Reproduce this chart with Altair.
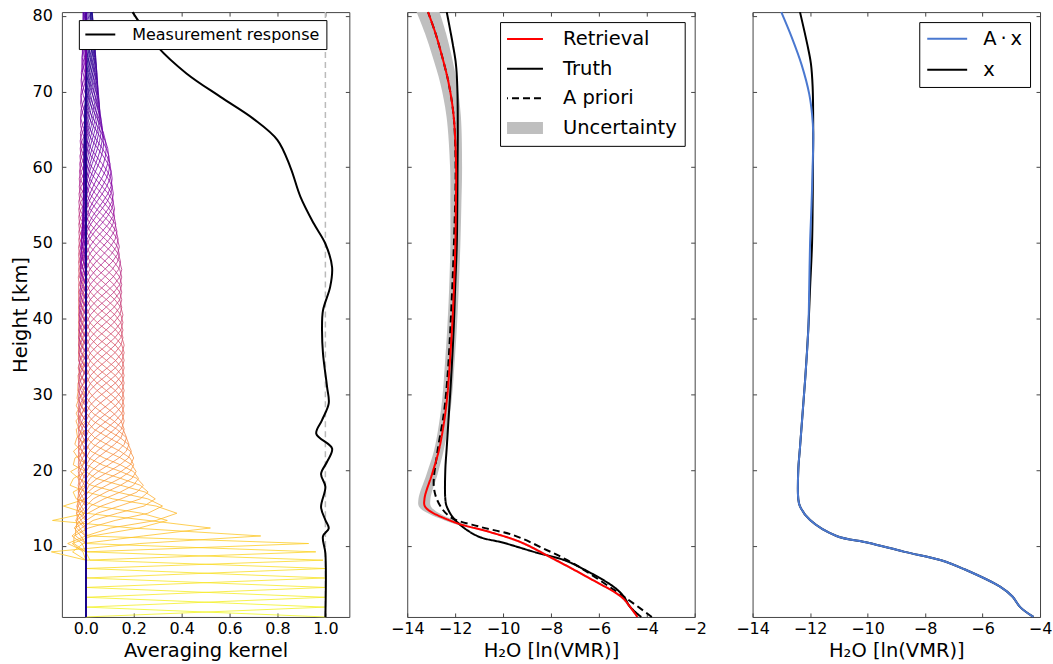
import altair as alt
import numpy as np
import pandas as pd

alt.data_transformers.disable_max_rows()

FONT = "DejaVu Sans"

# ---------------- left panel: averaging kernels ----------------
kernel_levels = [0.6, 1.9, 3.2, 4.5, 5.75, 7.0, 8.1, 9.2, 10.3, 11.3, 12.35, 13.35,
                 14.3, 15.25, 16.2, 17.1, 18.0, 18.9, 19.8, 20.7, 21.6, 22.5, 23.4,
                 24.3, 25.4,
                 26.5, 27.5, 28.5, 29.5, 30.5, 31.5, 32.5, 33.5, 34.5, 35.5,
                 36.5, 37.5, 38.5, 39.5, 40.5, 41.5, 42.5, 43.5, 44.5, 45.5,
                 46.5, 47.5, 48.5, 49.5, 50.5, 51.5, 52.5, 53.5, 54.5, 55.5,
                 56.5, 57.5, 58.5, 59.5, 60.5, 61.5, 62.5, 63.5, 64.5, 65.5,
                 66.5, 67.5, 68.5, 69.5, 70.5, 71.5, 72.5, 73.5, 74.5, 75.5,
                 76.5, 77.5, 78.5, 79.5, 80.5]
kernel_peak = [1.0, 1.0, 1.0, 1.0, 1.0, 1.0, 0.99, 0.96, 0.93,
               0.73, 0.52, 0.34, 0.38, 0.32, 0.29, 0.26, 0.24, 0.22, 0.21, 0.2,
               0.2, 0.19, 0.18, 0.17, 0.16,
               0.16, 0.16, 0.16, 0.16, 0.16, 0.16, 0.16, 0.16, 0.16, 0.16,
               0.16, 0.155, 0.155, 0.155, 0.155, 0.15, 0.15, 0.15, 0.15, 0.15,
               0.15, 0.145, 0.14, 0.14, 0.135, 0.13, 0.125, 0.12, 0.12, 0.115,
               0.115, 0.11, 0.11, 0.105, 0.1, 0.095, 0.085, 0.075, 0.07, 0.065,
               0.06, 0.058, 0.055, 0.052, 0.05, 0.048, 0.045, 0.043, 0.04, 0.038,
               0.035, 0.032, 0.03, 0.025, 0.02]
kernel_width = [1.3, 1.3, 1.3, 1.3, 1.25, 1.2, 1.1, 1.1, 1.05,
                1.6, 2.0, 2.5, 3.0, 3.3, 3.6, 3.9, 4.2, 4.5, 4.8, 5.0, 5.2, 5.4,
                5.6, 5.8, 6.0,
                6.3, 6.3, 6.3, 6.3, 6.3, 6.3, 6.3, 6.3, 6.3, 6.3,
                6.5, 6.5, 6.5, 6.5, 6.5, 6.5, 6.5, 6.5, 6.5, 6.5,
                6.5, 6.5, 6.5, 6.5, 6.5, 6.5, 6.5, 6.5, 6.5, 6.5,
                7.0, 7.0, 7.5, 7.5, 8.0, 8.0, 8.5, 8.5, 9.0, 9.0,
                9.5, 9.5, 9.5, 9.5, 9.5, 9.5, 9.5, 9.5, 9.5, 9.5,
                10.0, 10.0, 10.0, 10.0, 10.0]
kernel_lobe = 0.2

resp_h = [0.6, 9.0, 11.26, 12.3, 13.4, 15.1, 17.8, 19.5, 21.1, 22.85, 24.8, 26.6,
          28.8, 31.0, 35.4, 38.7, 41.1, 44.2, 46.8, 49.9, 52.6, 56.1, 60.0, 63.6,
          66.4, 69.3, 72.4, 75.9, 80.5]
resp_v = [1.0, 1.0, 0.99, 1.014, 1.0, 0.982, 1.0, 0.982, 1.007, 1.028, 0.962,
          0.986, 1.014, 1.007, 0.99, 0.986, 0.99, 1.02, 1.028, 1.0, 0.951, 0.896,
          0.854, 0.80, 0.70, 0.562, 0.42, 0.30, 0.195]
unity_ref = [1.0]

# ---------------- middle panel ----------------
truth_h = [0.6, 1.9, 3.3, 4.6, 6.9, 8.1, 9.2, 10.4, 11.3, 13.4, 15.2, 16.2, 20.0,
           23.0, 27.0, 32.0, 38.7, 44.0, 50.0, 55.0, 60.0, 64.5, 70.6, 73.7, 76.3,
           80.5]
truth_v = [-4.23, -4.69, -4.96, -5.39, -6.63, -7.44, -8.71, -9.98, -11.08, -12.0,
           -12.35, -12.41, -12.41, -12.35, -12.27, -12.17, -12.06, -12.0, -11.93,
           -11.91, -11.9, -11.89, -11.91, -11.97, -12.1, -12.35]
ret_h = [0.6, 1.9, 3.2, 5.9, 8.5, 10.5, 11.8, 13.15, 15.1, 16.2, 19.5, 22.6, 26.2,
         29.7, 32.0, 38.7, 44.0, 49.9, 55.0, 60.0, 66.7, 71.1, 74.6, 77.7, 80.5]
ret_v = [-4.39, -4.69, -5.04, -6.5, -8.03, -9.28, -10.53, -12.06, -13.24, -13.28,
         -12.96, -12.68, -12.47, -12.33, -12.27, -12.13, -12.05, -11.99, -11.97,
         -11.96, -12.06, -12.27, -12.54, -12.82, -13.13]
ret_sd = [0.05, 0.06, 0.07, 0.08, 0.1, 0.1, 0.12, 0.2, 0.25, 0.25, 0.23, 0.2, 0.2,
          0.2, 0.2, 0.2, 0.2, 0.21, 0.23, 0.25, 0.3, 0.35, 0.4, 0.44, 0.48]
apr_h = [0.6, 3.0, 7.65, 9.64, 11.4, 12.5, 13.8, 15.6, 17.8, 22.2, 27.5, 31.9, 38.7,
         50.0, 60.0, 66.7, 71.1, 74.6, 77.7, 80.5]
apr_v = [-3.79, -4.83, -7.06, -8.31, -9.56, -10.95, -12.2, -12.68, -12.89, -12.75,
         -12.47, -12.33, -12.2, -12.05, -11.98, -12.06, -12.27, -12.54, -12.82, -13.13]

# ---------------- right panel ----------------
ax_h = [0.6, 1.9, 3.3, 4.6, 6.9, 8.1, 9.2, 10.4, 11.3, 13.4, 15.2, 16.2, 20.0, 23.0,
        27.0, 32.0, 38.7, 44.0, 50.0, 55.0, 60.0, 64.5, 67.0, 69.7, 73.5, 77.2, 80.5]
ax_v = [-4.23, -4.69, -4.96, -5.39, -6.63, -7.44, -8.71, -9.98, -11.08, -12.0,
        -12.35, -12.41, -12.41, -12.35, -12.27, -12.17, -12.06, -12.03, -12.0,
        -11.95, -11.91, -11.89, -11.93, -12.03, -12.29, -12.64, -13.0]

# ---------------- tables ----------------
krows = []
for i, (zc, amp, w) in enumerate(zip(kernel_levels, kernel_peak, kernel_width)):
    lobe = 0.0 if i < 9 else kernel_lobe
    for zj in kernel_levels:
        r = abs(zj - zc) / w
        if r < 1:
            val = amp * np.cos(np.pi * r / 2) ** 2
        elif r < 1.7:
            val = -lobe * amp * np.sin(np.pi * (r - 1) / 0.7)
        else:
            val = 0.0
        krows.append({"k": i, "h": zj, "a": float(val)})
df_k = pd.DataFrame(krows)
df_resp = pd.DataFrame({"h": resp_h, "v": resp_v, "s": "Measurement response"})
df_ref = pd.DataFrame({"x": unity_ref})

AX_LABEL = "A\u2009·\u2009x"
df_truth = pd.DataFrame({"h": truth_h, "v": truth_v, "s": "Truth"})
df_ret = pd.DataFrame({"h": ret_h, "v": ret_v, "s": "Retrieval"})
df_apr = pd.DataFrame({"h": apr_h, "v": apr_v, "s": "A priori"})
df_unc = pd.DataFrame({"h": ret_h,
                       "lo": [v - s for v, s in zip(ret_v, ret_sd)],
                       "hi": [v + s for v, s in zip(ret_v, ret_sd)]})
df_x = pd.DataFrame({"h": truth_h, "v": truth_v, "s": "x"})
df_ax = pd.DataFrame({"h": ax_h, "v": ax_v, "s": AX_LABEL})

# ---------------- styling helpers ----------------
W, H = 288, 606
Y_DOM = [0.6, 80.5]
FRAME = "#444444"
Y_VALS = [10, 20, 30, 40, 50, 60, 70, 80]


def sc(dom):
    return alt.Scale(domain=dom, nice=False, zero=False)


def main_axis(orient, values, fmt, labels, label_pad, title_pad):
    return alt.Axis(orient=orient, values=values, format=fmt, offset=-4, tickSize=4,
                    tickColor=FRAME, tickWidth=1, domain=False, grid=False,
                    labels=labels, labelPadding=label_pad, labelFont=FONT,
                    labelFontSize=16, labelColor="black", labelFlush=False,
                    labelOverlap=False, titleFont=FONT, titleFontSize=19.5,
                    titleFontWeight="normal", titleColor="black",
                    titlePadding=title_pad)


def tick_axis(orient, values):
    return alt.Axis(orient=orient, values=values, offset=-4, tickSize=4,
                    tickColor=FRAME, tickWidth=1, domain=False, grid=False,
                    labels=False)


def legend_box(**kw):
    base = dict(title=None, fillColor="white", strokeColor="black", cornerRadius=0,
                labelFont=FONT, labelColor="black", zindex=1, labelLimit=400,
                symbolSize=64)
    base.update(kw)
    return alt.Legend(**base)


# ---------------- panel 1 ----------------
x1 = [-0.1, 1.1]
x1_vals = [0.0, 0.2, 0.4, 0.6, 0.8, 1.0]
kern = alt.Chart(df_k).mark_line(strokeWidth=1, opacity=0.8).encode(
    x=alt.X("a:Q", scale=sc(x1), title="Averaging kernel",
            axis=main_axis("bottom", x1_vals, ".1f", True, 4, 5)),
    y=alt.Y("h:Q", scale=sc(Y_DOM), title="Height [km]",
            axis=main_axis("left", Y_VALS, "d", True, 9.5, 1.5)),
    color=alt.Color("k:Q", scale=alt.Scale(scheme="plasma", reverse=True), legend=None),
    detail="k:N",
    order=alt.Order("h:Q"),
)
ref = alt.Chart(df_ref).mark_rule(color="#bbbbbb", strokeDash=[6, 4], strokeWidth=1.5).encode(
    x=alt.X("x:Q", scale=sc(x1), axis=None)
)
resp = alt.Chart(df_resp).mark_line(strokeWidth=2, interpolate="catmull-rom").encode(
    x=alt.X("v:Q", scale=sc(x1), axis=None),
    y=alt.Y("h:Q", scale=sc(Y_DOM), axis=None),
    color=alt.Color("s:N", scale=alt.Scale(domain=["Measurement response"], range=["black"]),
                    legend=legend_box(orient="none", legendX=17, legendY=8, padding=6.5,
                                      labelFontSize=16, symbolType="M-4.125,0L4.125,0",
                                      symbolStrokeWidth=2, symbolOffset=5.5,
                                      labelOffset=25.5, clipHeight=16)),
    order=alt.Order("h:Q"),
)
ticks1 = alt.Chart(df_resp).mark_line(opacity=0).encode(
    x=alt.X("v:Q", scale=sc(x1), title=None, axis=tick_axis("top", x1_vals)),
    y=alt.Y("h:Q", scale=sc(Y_DOM), title=None, axis=tick_axis("right", Y_VALS)),
)
p1 = alt.layer(kern, ref, resp, ticks1).resolve_scale(color="independent").resolve_axis(
    x="independent", y="independent").properties(width=W, height=H)

# ---------------- panel 2 ----------------
x2 = [-14, -2]
x2_vals = [-14, -12, -10, -8, -6, -4, -2]
ser2 = ["Retrieval", "Truth", "A priori", "Uncertainty"]


def leg2():
    return legend_box(orient="top-right", offset=10, padding=7, labelFontSize=19.5,
                      symbolType="M-5.25,0L5.25,0", symbolOffset=5, labelOffset=31.1,
                      rowPadding=9.7, clipHeight=20)


col2 = alt.Color("s:N", scale=alt.Scale(domain=ser2, range=["#ff0000", "black", "black", "#bfbfbf"]),
                 legend=leg2())
dash2 = alt.StrokeDash("s:N", scale=alt.Scale(domain=ser2, range=[[1, 0], [1, 0], [7, 4], [1, 0]]),
                       legend=leg2())
sw2 = alt.StrokeWidth("s:N", scale=alt.Scale(type="ordinal", domain=ser2, range=[2, 2, 2, 12]),
                      legend=leg2())

band = alt.Chart(df_unc).mark_area(orient="horizontal", color="#bfbfbf",
                                   interpolate="catmull-rom").encode(
    y=alt.Y("h:Q", scale=sc(Y_DOM), title=None, axis=main_axis("left", Y_VALS, "d", False, 9.5, 5)),
    x=alt.X("lo:Q", scale=sc(x2), title="H₂O [ln(VMR)]",
            axis=main_axis("bottom", x2_vals, "d", True, 4, 5)),
    x2="hi:Q",
)


def prof(df, xs):
    return alt.Chart(df).mark_line(interpolate="catmull-rom").encode(
        x=alt.X("v:Q", scale=sc(xs), axis=None),
        y=alt.Y("h:Q", scale=sc(Y_DOM), axis=None),
        order=alt.Order("h:Q"),
    )


l_truth = prof(df_truth, x2).encode(color=col2, strokeDash=dash2, strokeWidth=sw2)
l_apr = prof(df_apr, x2).encode(color=col2, strokeDash=dash2, strokeWidth=sw2)
l_ret = prof(df_ret, x2).encode(color=col2, strokeDash=dash2, strokeWidth=sw2)
ticks2 = alt.Chart(df_ret).mark_line(opacity=0).encode(
    x=alt.X("v:Q", scale=sc(x2), title=None, axis=tick_axis("top", x2_vals)),
    y=alt.Y("h:Q", scale=sc(Y_DOM), title=None, axis=tick_axis("right", Y_VALS)),
)
p2 = alt.layer(band, l_truth, l_apr, l_ret, ticks2).resolve_axis(
    x="independent", y="independent").properties(width=W, height=H)

# ---------------- panel 3 ----------------
x3 = [-14, -4]
x3_vals = [-14, -12, -10, -8, -6, -4]
ser3 = [AX_LABEL, "x"]
col3 = alt.Color("s:N", scale=alt.Scale(domain=ser3, range=["#4a78d0", "black"]),
                 legend=legend_box(orient="top-right", offset=10, padding=7,
                                   labelFontSize=19.5, symbolType="M-5,0L5,0",
                                   symbolOffset=11.25, labelOffset=26.4,
                                   rowPadding=9.9, symbolStrokeWidth=2, clipHeight=19.5))
l_x = alt.Chart(df_x).mark_line(strokeWidth=2, interpolate="catmull-rom").encode(
    x=alt.X("v:Q", scale=sc(x3), title="H₂O [ln(VMR)]",
            axis=main_axis("bottom", x3_vals, "d", True, 4, 5)),
    y=alt.Y("h:Q", scale=sc(Y_DOM), title=None, axis=main_axis("left", Y_VALS, "d", False, 9.5, 5)),
    color=col3,
    order=alt.Order("h:Q"),
)
l_ax = prof(df_ax, x3).encode(color=col3).mark_line(strokeWidth=2, interpolate="catmull-rom")
ticks3 = alt.Chart(df_ax).mark_line(opacity=0).encode(
    x=alt.X("v:Q", scale=sc(x3), title=None, axis=tick_axis("top", x3_vals)),
    y=alt.Y("h:Q", scale=sc(Y_DOM), title=None, axis=tick_axis("right", Y_VALS)),
)
p3 = alt.layer(l_x, l_ax, ticks3).resolve_axis(
    x="independent", y="independent").properties(width=W, height=H)

chart = alt.hconcat(p1, p2, p3, spacing=58, bounds="flush").resolve_scale(
    color="independent", strokeDash="independent", strokeWidth="independent"
).properties(
    padding={"left": 10, "top": 6.5, "right": 0, "bottom": 0}
).configure(font=FONT).configure_view(stroke=FRAME, strokeWidth=1)

chart.save("out.html", embed_options={"renderer": "svg", "actions": False})
